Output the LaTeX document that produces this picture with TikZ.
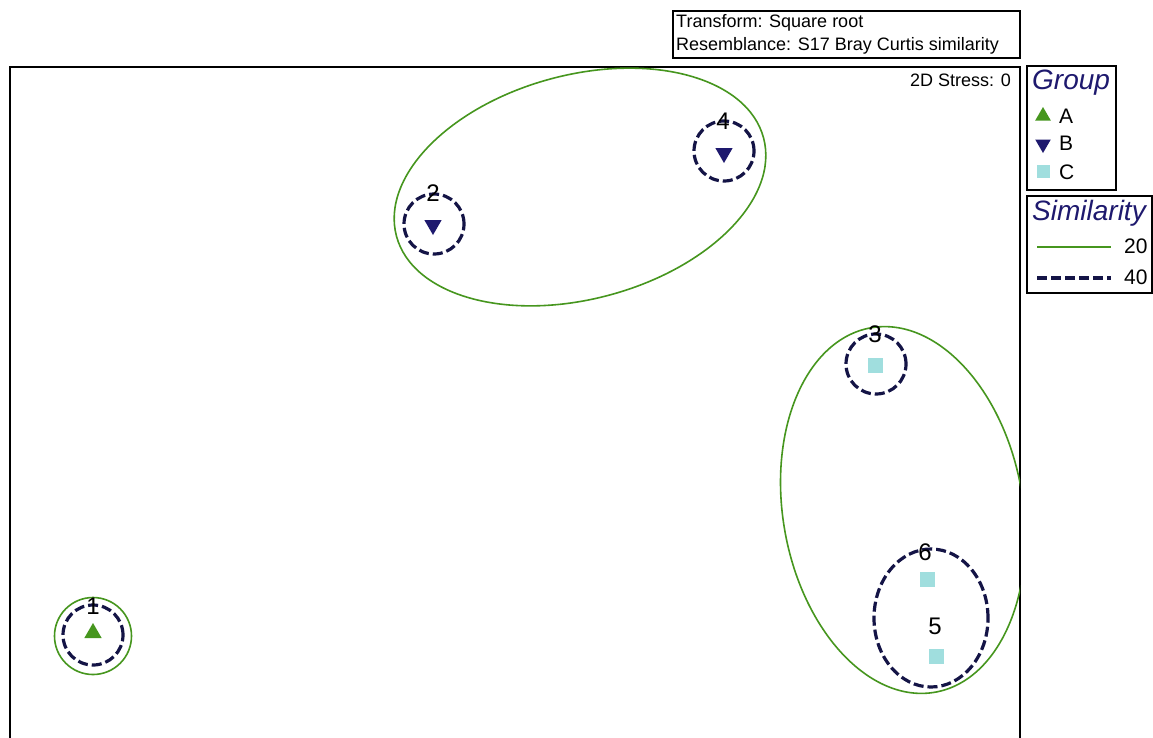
\documentclass[tikz,border=0pt]{standalone}
\usepackage{fontspec}
\setmainfont{Liberation Sans}
\usetikzlibrary{shapes.geometric}
\definecolor{grpgreen}{RGB}{70,150,30}
\definecolor{grpnavy}{RGB}{30,25,110}
\definecolor{simnavy}{RGB}{20,20,70}
\definecolor{grpcyan}{RGB}{160,222,222}
\tikzset{
	simtwenty/.style={line width=1.6pt, color=grpgreen},
	simforty/.style={line width=3.2pt, color=simnavy, dash pattern=on 10pt off 4pt},
	upmark/.style={regular polygon, regular polygon sides=3, fill=grpgreen, inner sep=0pt, minimum size=20pt},
	downmark/.style={regular polygon, regular polygon sides=3, shape border rotate=180, fill=grpnavy, inner sep=0pt, minimum size=20pt},
	sqmark/.style={rectangle, fill=grpcyan, inner sep=0pt, minimum size=15pt},
	ptlabel/.style={font=\fontsize{24}{24}\selectfont, inner sep=0pt},
	boxtext/.style={font=\fontsize{18}{18}\selectfont, inner sep=0pt},
	legtitle/.style={font=\fontsize{28}{28}\selectfont\itshape, color=grpnavy, inner sep=0pt},
	legtext/.style={font=\fontsize{21}{21}\selectfont, inner sep=0pt},
}

\begin{document}
\begin{tikzpicture}[x=1pt, y=-1pt]
			%%%%% START %%%%%
			\useasboundingbox[fill=white] (0, 0) rectangle (1153, 737);
			
			% header box
			\draw[line width=1.8pt] (673, 11) rectangle (1020, 58);
			\node[boxtext, anchor=west] (transform) at (676, 23) {Transform: Square root};
			\node[boxtext, anchor=west] (resemblance) at (676, 46) {Resemblance: S17 Bray Curtis similarity};
			
			% plot frame
			\draw[line width=1.8pt] (10, 67) rectangle (1020, 745);
			\node[boxtext, anchor=east] (stress) at (1011, 80) {2D Stress: 0};
			
			% 20 similarity contours
			\begin{scope}
				\clip (10, 67) rectangle (1020, 737);
				\draw[simtwenty] (93, 636) circle (38.5pt);
				\draw[simtwenty, rotate around={15:(580, 187)}] (580, 187) ellipse [x radius=190pt, y radius=112pt];
				\draw[simtwenty, rotate around={10:(903, 510)}] (903, 510) ellipse [x radius=120pt, y radius=185pt];
			\end{scope}
			
			% 40 similarity contours
			\draw[simforty] (93, 635) circle (30pt);
			\draw[simforty] (434, 224) circle (30pt);
			\draw[simforty] (724, 151) circle (30pt);
			\draw[simforty] (876, 364) circle (30pt);
			\draw[simforty] (931, 618) ellipse [x radius=57pt, y radius=69pt];
			
			% samples
			\node[upmark] (s1) at (93, 633) {};
			\node[downmark] (s2) at (433, 225) {};
			\node[downmark] (s4) at (724, 153) {};
			\node[sqmark] (s3) at (875, 365) {};
			\node[sqmark] (s6) at (927, 579) {};
			\node[sqmark] (s5) at (936, 656) {};
			
			\node[ptlabel] (l1) at (93, 606) {1};
			\node[ptlabel] (l2) at (433, 193) {2};
			\node[ptlabel] (l4) at (723, 121) {4};
			\node[ptlabel] (l3) at (875, 334) {3};
			\node[ptlabel] (l6) at (925, 552) {6};
			\node[ptlabel] (l5) at (935, 626) {5};
			
			% group legend
			\draw[line width=1.8pt] (1027, 66) rectangle (1116, 190);
			\node[legtitle, anchor=west] (group) at (1032, 83) {Group};
			\node[upmark, minimum size=18pt] (ka) at (1043, 116) {};
			\node[downmark, minimum size=18pt] (kb) at (1043, 144) {};
			\node[sqmark, minimum size=13pt] (kc) at (1043, 171) {};
			\node[legtext, anchor=west] (ta) at (1059, 116) {A};
			\node[legtext, anchor=west] (tb) at (1059, 143) {B};
			\node[legtext, anchor=west] (tc) at (1059, 172) {C};
			
			% similarity legend
			\draw[line width=1.8pt] (1027, 196) rectangle (1152, 293);
			\node[legtitle, anchor=west] (similarity) at (1032, 213) {Similarity};
			\coordinate (k20a) at (1037, 247);
			\coordinate (k20b) at (1111, 247);
			\coordinate (k40a) at (1037, 278);
			\coordinate (k40b) at (1111, 278);
			\draw[simtwenty] (k20a) -- (k20b);
			\draw[simforty] (k40a) -- (k40b);
			\node[legtext, anchor=west] (t20) at (1124, 246) {20};
			\node[legtext, anchor=west] (t40) at (1124, 277) {40};
			
			%%%%% END %%%%%
\end{tikzpicture}
\end{document}
